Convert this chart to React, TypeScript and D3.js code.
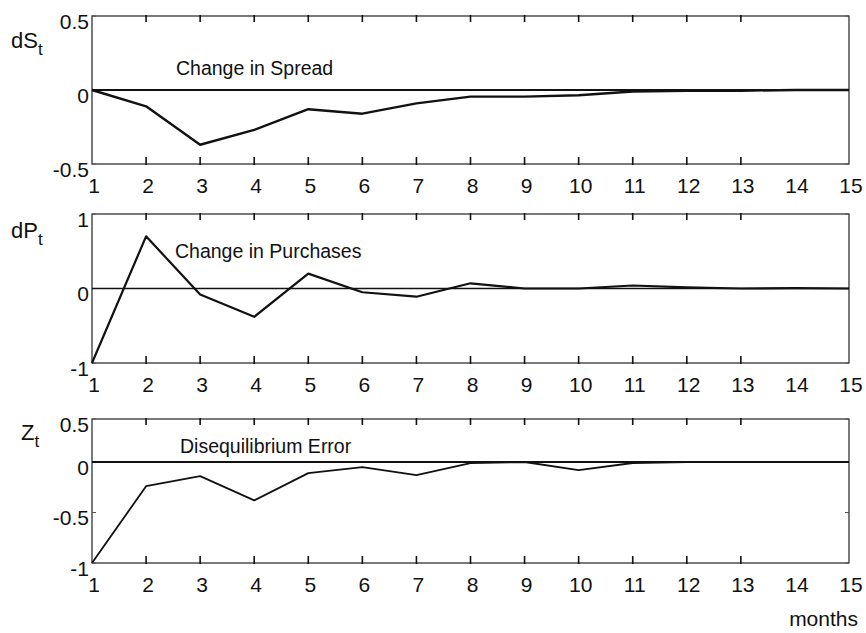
import React from "react";
import * as d3 from "d3";

// months on the x axis
const months = [1, 2, 3, 4, 5, 6, 7, 8, 9, 10, 11, 12, 13, 14, 15];
// tick marks drawn on the frame (none at 14 in the original)
const tickMarkMonths = [2, 3, 4, 5, 6, 7, 8, 9, 10, 11, 12, 13];

// impulse responses
const spreadValues = [0, -0.11, -0.37, -0.27, -0.13, -0.16, -0.09, -0.045, -0.045, -0.035, -0.01, -0.005, -0.005, 0, 0];
const purchaseValues = [-1, 0.7, -0.08, -0.38, 0.2, -0.05, -0.11, 0.07, 0, 0, 0.04, 0.015, 0, 0.005, 0];
const errorValues = [-1, -0.24, -0.14, -0.38, -0.11, -0.05, -0.13, -0.01, 0, -0.08, -0.01, 0, 0, 0, 0];

const spreadTicks = [-0.5, 0, 0.5];
const purchaseTicks = [-1, 0, 1];
const errorTicks = [-1, -0.5, 0, 0.5];

const FONT = "'Liberation Sans', Arial, Helvetica, sans-serif";
const W = 866;
const H = 633;
const left = 92;
const right = 849;

const x = d3.scaleLinear().domain([1, 15]).range([left, right]);

const panels = [
  {
    key: "spread",
    values: spreadValues,
    ticks: spreadTicks,
    y: d3.scaleLinear().domain([-0.5, 0.5]).range([164, 16]),
    label: "dS",
    labelX: 11,
    labelY: 48,
    title: "Change in Spread",
    titleX: 176,
    titleY: 75,
    zeroWidth: 2,
    lineWidth: 2.4,
  },
  {
    key: "purchases",
    values: purchaseValues,
    ticks: purchaseTicks,
    y: d3.scaleLinear().domain([-1, 1]).range([363, 214]),
    label: "dP",
    labelX: 11,
    labelY: 238,
    title: "Change in Purchases",
    titleX: 175,
    titleY: 258,
    zeroWidth: 1.3,
    lineWidth: 2.2,
  },
  {
    key: "error",
    values: errorValues,
    ticks: errorTicks,
    // the scanned axis is not quite linear: zero sits above the middle
    y: d3.scaleLinear().domain([-1, 0, 0.5]).range([563, 462, 419]),
    label: "Z",
    labelX: 21,
    labelY: 440,
    title: "Disequilibrium Error",
    titleX: 180,
    titleY: 453,
    zeroWidth: 2,
    lineWidth: 1.8,
  },
];

const fmt = (v: number) => (v === 0 ? "0" : String(v));

const Panel = ({ p }: { p: (typeof panels)[number] }) => {
  const dom = p.y.domain();
  const y0 = p.y(dom[0]);
  const y1 = p.y(dom[dom.length - 1]);
  const line = d3
    .line<number>()
    .x((_, i) => x(months[i]))
    .y((d) => p.y(d));

  return (
    <g>
      {/* frame */}
      <rect x={left} y={y1} width={right - left} height={y0 - y1} fill="none" stroke="#222" strokeWidth={1.2} />
      {/* x tick marks, top and bottom */}
      {tickMarkMonths.map((m) => (
        <g key={m}>
          <line x1={x(m)} x2={x(m)} y1={y1 - 1} y2={y1 + 6} stroke="#111" strokeWidth={1.6} />
          <line x1={x(m)} x2={x(m)} y1={y0 + 1} y2={y0 - 7} stroke="#111" strokeWidth={1.6} />
        </g>
      ))}
      {/* y tick marks */}
      {p.ticks.map((t) => (
        <g key={t}>
          <line x1={left} x2={left + 4} y1={p.y(t)} y2={p.y(t)} stroke="#555" strokeWidth={1} />
          <line x1={right} x2={right - 4} y1={p.y(t)} y2={p.y(t)} stroke="#555" strokeWidth={1} />
          <text
            x={89}
            y={p.y(t) + 5}
            textAnchor="end"
            dominantBaseline="central"
            fontSize={21}
            fontFamily={FONT}
            fill="#111"
          >
            {fmt(t)}
          </text>
        </g>
      ))}
      {/* x tick labels */}
      {months.map((m) => (
        <text
          key={m}
          x={x(m) + 2}
          y={y0 + 21}
          textAnchor="middle"
          dominantBaseline="central"
          fontSize={21}
          fontFamily={FONT}
          fill="#111"
        >
          {m}
        </text>
      ))}
      {/* zero line */}
      <line x1={left} x2={right} y1={p.y(0)} y2={p.y(0)} stroke="#111" strokeWidth={p.zeroWidth} />
      {/* response */}
      <path d={line(p.values) ?? ""} fill="none" stroke="#111" strokeWidth={p.lineWidth} strokeLinejoin="round" />
      {/* annotation */}
      <text x={p.titleX} y={p.titleY} fontSize={19.5} fontFamily={FONT} fill="#111">
        {p.title}
      </text>
      {/* y label with subscript */}
      <text x={p.labelX} y={p.labelY} fontSize={22} fontFamily={FONT} fill="#111">
        {p.label}
        <tspan fontSize={17} dy={7}>
          t
        </tspan>
      </text>
    </g>
  );
};

export default function App() {
  return (
    <svg
      width={W}
      height={H}
      viewBox={`0 0 ${W} ${H}`}
      style={{ position: "absolute", left: 0, top: 0, background: "#fff" }}
    >
      <rect width={W} height={H} fill="#fff" />
      {panels.map((p) => (
        <Panel key={p.key} p={p} />
      ))}
      <text x={858} y={626} textAnchor="end" fontSize={21} fontFamily={FONT} fill="#111">
        months
      </text>
    </svg>
  );
}
